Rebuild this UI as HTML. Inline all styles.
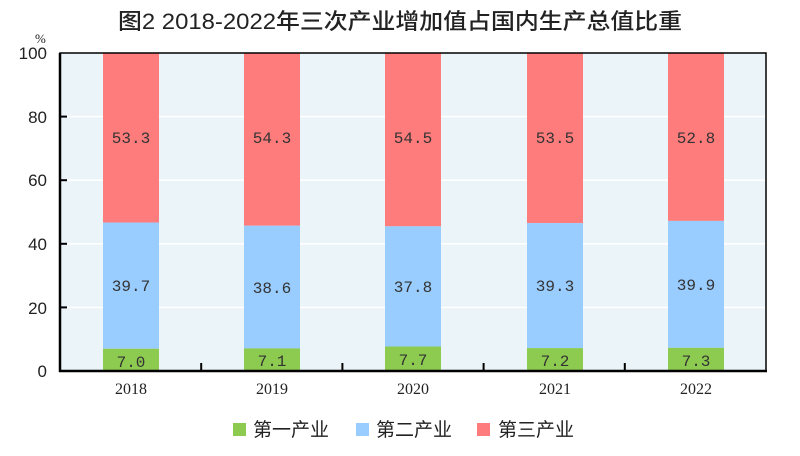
<!DOCTYPE html>
<html><head><meta charset="utf-8"><style>body{margin:0;background:#fff}svg{display:block}</style></head><body>
<svg width="800" height="456" xmlns="http://www.w3.org/2000/svg" font-family="Liberation Sans, Noto Sans CJK SC, sans-serif">
<rect width="800" height="456" fill="#fff"/>
<text x="400" y="29" text-anchor="middle" font-size="22" font-weight="500" fill="#222" textLength="564" lengthAdjust="spacingAndGlyphs" font-family="Liberation Sans, Noto Sans CJK SC, sans-serif">图2 2018-2022年三次产业增加值占国内生产总值比重</text>
<text x="35" y="43" font-size="13" fill="#222" font-family="Liberation Serif, serif">%</text>
<rect x="60" y="53" width="706" height="318" fill="#EBF4F8"/>
<g stroke="#fff" stroke-width="1.5">
<line x1="60" y1="116.6" x2="766" y2="116.6"/><line x1="60" y1="180.2" x2="766" y2="180.2"/><line x1="60" y1="243.8" x2="766" y2="243.8"/><line x1="60" y1="307.4" x2="766" y2="307.4"/>
</g>
<g font-family="Liberation Mono, monospace" font-size="16" fill="#333" text-anchor="middle">
<rect x="103" y="53" width="56" height="169.5" fill="#FF7C7C"/>
<rect x="103" y="222.5" width="56" height="126.2" fill="#99CCFF"/>
<rect x="103" y="348.7" width="56" height="22.3" fill="#8DCB50"/>
<rect x="244" y="53" width="56" height="172.7" fill="#FF7C7C"/>
<rect x="244" y="225.7" width="56" height="122.7" fill="#99CCFF"/>
<rect x="244" y="348.4" width="56" height="22.6" fill="#8DCB50"/>
<rect x="385" y="53" width="56" height="173.3" fill="#FF7C7C"/>
<rect x="385" y="226.3" width="56" height="120.2" fill="#99CCFF"/>
<rect x="385" y="346.5" width="56" height="24.5" fill="#8DCB50"/>
<rect x="527" y="53" width="56" height="170.1" fill="#FF7C7C"/>
<rect x="527" y="223.1" width="56" height="125" fill="#99CCFF"/>
<rect x="527" y="348.1" width="56" height="22.9" fill="#8DCB50"/>
<rect x="668" y="53" width="56" height="167.9" fill="#FF7C7C"/>
<rect x="668" y="220.9" width="56" height="126.9" fill="#99CCFF"/>
<rect x="668" y="347.8" width="56" height="23.2" fill="#8DCB50"/>
<text x="131" y="143">53.3</text><text x="131" y="291">39.7</text><text x="131" y="367">7.0</text>
<text x="272" y="143">54.3</text><text x="272" y="293">38.6</text><text x="272" y="366">7.1</text>
<text x="413" y="143">54.5</text><text x="413" y="292">37.8</text><text x="413" y="365">7.7</text>
<text x="555" y="143">53.5</text><text x="555" y="291">39.3</text><text x="555" y="366">7.2</text>
<text x="696" y="143">52.8</text><text x="696" y="290">39.9</text><text x="696" y="366">7.3</text>
</g>
<rect x="60" y="53" width="706" height="318" fill="none" stroke="#000" stroke-width="1.5"/>
<line x1="60" y1="53" x2="60" y2="372" stroke="#000" stroke-width="2.5"/>
<line x1="59" y1="371" x2="767" y2="371" stroke="#000" stroke-width="2.5"/>
<g stroke="#000" stroke-width="2">
<line x1="60" y1="116.6" x2="67" y2="116.6"/><line x1="60" y1="180.2" x2="67" y2="180.2"/><line x1="60" y1="243.8" x2="67" y2="243.8"/><line x1="60" y1="307.4" x2="67" y2="307.4"/>
<line x1="201.2" y1="371" x2="201.2" y2="363"/><line x1="342.4" y1="371" x2="342.4" y2="363"/><line x1="483.6" y1="371" x2="483.6" y2="363"/><line x1="624.8" y1="371" x2="624.8" y2="363"/>
</g>
<g font-family="Liberation Sans, sans-serif" font-size="17" fill="#222" text-anchor="end">
<text x="47" y="59">100</text><text x="47" y="123">80</text><text x="47" y="186">60</text><text x="47" y="250">40</text><text x="47" y="314">20</text><text x="47" y="377">0</text>
</g>
<g font-family="Liberation Serif, serif" font-size="16" fill="#222" text-anchor="middle">
<text x="131" y="394">2018</text><text x="272" y="394">2019</text><text x="413" y="394">2020</text><text x="555" y="394">2021</text><text x="696" y="394">2022</text>
</g>
<g font-size="19" fill="#222" font-family="Noto Sans CJK SC, sans-serif">
<rect x="233" y="423" width="13" height="13" fill="#8DCB50"/><text x="253" y="436">第一产业</text>
<rect x="356" y="423" width="13" height="13" fill="#99CCFF"/><text x="376" y="436">第二产业</text>
<rect x="477" y="423" width="13" height="13" fill="#FF7C7C"/><text x="498" y="436">第三产业</text>
</g>
</svg>
</body></html>
